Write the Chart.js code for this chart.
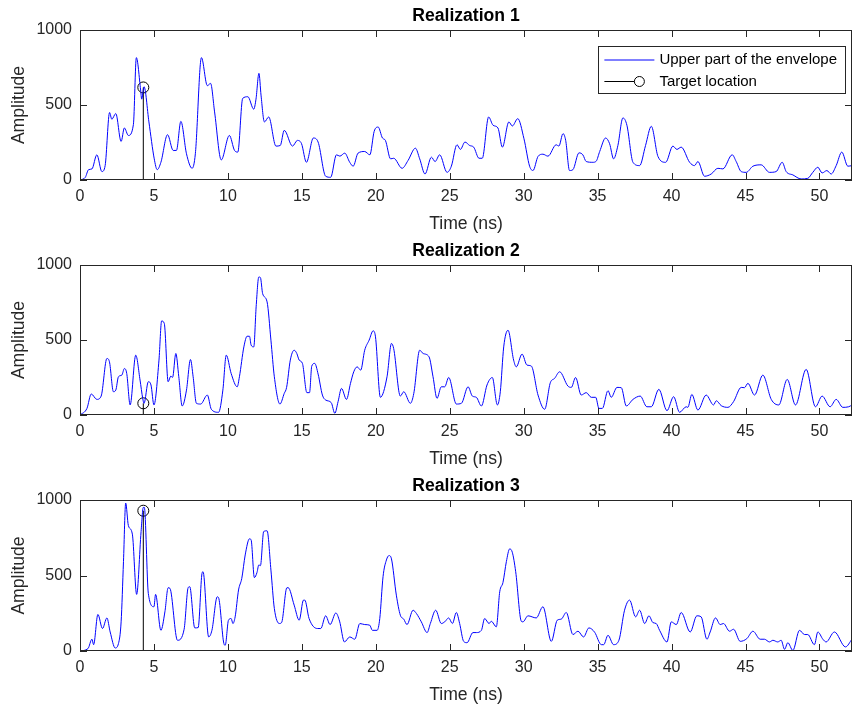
<!DOCTYPE html>
<html>
<head>
<meta charset="utf-8">
<script src="https://cdn.jsdelivr.net/npm/chart.js@4.4.0/dist/chart.umd.min.js"></script>
<style>
  body { margin: 0; background: #fff; }
  canvas { position: absolute; left: 0; }
</style>
</head>
<body>
<canvas id="c1" width="853" height="235" style="top:0px"></canvas>
<canvas id="c2" width="853" height="235" style="top:235px"></canvas>
<canvas id="c3" width="853" height="236" style="top:470px"></canvas>
<script>
// realization 1
const time1 = [0,0.36,0.58,0.81,1.14,1.48,1.70,2.0,2.15,2.42,2.78,3.0,3.27,3.61,3.81,4.10,4.17,4.33,4.66,5.02,5.22,5.47,5.92,6.30,6.52,6.82,7.2,7.58,7.80,8.21,8.61,8.83,9.1,9.55,10.1,10.45,10.67,11.0,11.35,11.75,11.9,12.1,12.24,12.47,12.76,13.25,13.54,13.81,14.37,14.7,14.98,15.31,15.78,16.1,16.61,16.95,17.34,17.57,17.9,18.24,18.47,18.8,19.25,19.6,19.89,20.16,20.45,20.65,21.0,21.21,21.78,22.18,22.68,22.97,23.33,23.76,24.01,24.32,24.82,25.11,25.49,25.72,26.03,26.35,26.62,26.98,27.2,27.63,27.93,28.26,28.56,29.0,29.23,29.6,30.02,30.4,30.63,30.97,31.3,31.64,32.2,32.38,32.66,32.84,33.1,33.33,33.74,34.0,34.23,34.68,34.9,35.14,35.54,35.81,36.08,36.37,36.71,36.98,37.39,37.84,38.24,38.63,39.08,39.6,40.09,40.36,40.65,41.22,41.55,41.78,42.23,42.68,43.13,43.47,44.1,44.37,44.71,45.05,45.5,46.06,46.62,47.07,47.48,47.75,48.2,48.76,49.21,49.55,49.89,50.18,50.5,50.79,51.13,51.51,51.92,52.2];
const amp1 = [0,18,69,74,168,56,96,450,405,443,257,347,297,369,816,600,539,622,387,141,69,118,302,197,197,391,175,78,175,816,629,644,454,134,297,197,186,544,555,472,539,711,566,387,420,226,230,331,226,264,242,118,280,253,25,18,168,159,179,118,92,179,190,168,324,353,280,264,141,145,78,130,212,141,40,152,123,168,51,92,235,204,253,230,219,145,145,420,365,347,219,387,360,409,275,92,63,157,172,159,235,226,309,264,63,69,181,168,123,118,125,190,280,242,141,230,414,365,118,96,230,358,157,118,226,204,219,118,96,123,25,40,78,74,168,123,56,51,92,101,51,56,118,56,34,7,11,51,85,47,63,40,96,186,92,96];

// realization 2
const time2 = [0,0.47,0.76,1.14,1.43,1.82,1.99,2.26,2.42,2.6,2.83,3.0,3.16,3.39,3.77,4.06,4.24,4.33,4.62,4.8,5.0,5.34,5.52,5.7,5.96,6.14,6.26,6.48,6.68,6.91,7.2,7.47,7.65,7.87,8.16,8.61,8.88,9.37,9.66,9.89,10.22,10.63,10.78,11.08,11.3,11.46,11.57,11.75,11.91,12.09,12.2,12.35,12.65,12.91,13.14,13.52,13.81,13.97,14.22,14.48,14.66,14.82,15.04,15.34,15.52,15.67,15.87,16.1,16.39,16.61,16.99,17.23,17.45,17.68,18.02,18.29,18.51,18.74,18.98,19.25,19.55,19.82,19.98,20.31,20.76,21.06,21.21,21.66,21.89,22.34,22.57,22.97,23.2,23.6,23.87,24.14,24.43,24.66,24.93,25.45,25.79,26.24,26.53,26.8,27.14,27.52,27.88,28.22,28.42,28.65,28.94,29.32,29.5,29.89,30.22,30.52,30.97,31.42,31.8,32.09,32.43,32.99,33.22,33.51,33.89,34.23,34.57,34.87,35.09,35.32,35.7,35.92,36.31,36.6,36.94,37.39,37.88,38.33,38.63,39.14,39.69,40.14,40.54,40.99,41.1,41.37,41.78,42.34,42.84,43.02,43.36,43.81,44.19,44.71,44.93,45.16,45.61,46.17,46.74,47.25,47.82,48.38,49.1,49.73,50.18,50.72,51.13,51.58,51.98,52.2];
const amp2 = [0,44,140,104,126,377,355,155,166,255,266,310,277,67,399,233,111,78,222,200,67,366,627,610,222,259,251,410,255,60,166,370,255,78,73,133,38,18,166,399,277,188,255,454,525,525,466,454,721,920,916,809,754,499,255,73,144,184,366,432,410,366,344,149,149,326,344,273,133,100,82,11,89,177,104,211,288,321,299,432,499,561,521,118,255,477,443,126,155,78,144,432,410,388,255,111,188,188,250,73,78,188,126,118,60,200,250,67,155,454,565,366,321,406,333,326,133,38,215,244,288,193,184,250,133,149,118,118,44,44,162,118,184,182,60,104,126,55,55,171,29,122,18,55,51,137,33,133,67,95,62,51,89,184,182,211,133,266,104,67,237,67,304,55,126,55,104,51,55,67];

// realization 3
const time3 = [0,0.54,0.81,0.92,1.21,1.52,1.82,2.04,2.38,2.6,2.78,2.94,3.09,3.27,3.54,3.83,4.13,4.28,4.35,4.62,5.0,5.11,5.47,5.74,5.96,6.08,6.59,7.04,7.31,7.42,7.76,7.99,8.25,8.32,8.7,8.92,9.28,9.37,9.73,9.82,10.04,10.22,10.34,10.49,10.72,10.94,11.17,11.46,11.57,11.79,11.97,12.09,12.2,12.42,12.65,12.91,13.14,13.48,13.63,13.99,14.08,14.48,14.82,15.11,15.2,15.49,16.05,16.28,16.61,16.91,17.3,17.55,17.88,18.24,18.58,18.92,19.25,19.59,19.77,20.09,20.27,20.49,20.72,20.9,21.06,21.39,21.66,21.89,22.11,22.52,22.75,23.08,23.47,23.69,24.05,24.43,24.66,24.93,25.18,25.45,25.67,25.94,26.17,26.57,26.8,27.14,27.36,27.66,27.81,28.15,28.38,28.6,28.83,29.05,29.23,29.46,29.84,29.95,30.29,30.85,31.3,31.87,32.27,32.54,32.88,33.33,33.67,34.05,34.41,34.8,35.25,35.41,35.7,36.08,36.44,36.82,37.16,37.57,37.84,38.18,38.47,38.74,38.96,39.19,39.69,39.98,40.32,40.65,41.26,41.71,42.0,42.39,42.61,42.97,43.29,43.51,43.92,44.19,44.64,45.09,45.5,45.99,46.28,46.62,46.85,47.18,47.41,47.64,47.86,48.2,48.65,48.99,49.21,49.66,49.89,50.23,50.45,51.01,51.76,52.2];
const amp3 = [0,16,78,42,242,149,219,126,20,49,193,592,980,831,774,375,791,951,951,381,293,375,137,259,419,415,71,144,419,426,153,155,514,525,93,137,359,353,49,38,204,215,182,226,404,481,636,743,736,486,521,570,565,791,796,536,282,182,188,419,419,304,204,337,337,215,149,149,233,175,252,198,60,93,78,182,175,171,137,137,215,492,603,632,610,370,237,211,175,270,248,193,122,182,270,182,193,219,182,255,182,64,55,122,122,137,215,182,197,160,392,454,592,676,654,525,197,193,233,219,293,64,204,211,255,109,131,93,153,124,42,42,104,42,71,270,337,226,270,182,233,188,182,137,60,193,175,255,126,233,226,78,126,219,175,182,131,144,64,82,131,78,78,60,71,60,71,11,55,4,137,109,109,42,126,78,60,126,27,78];

const targetTime = 4.28;
const targetAmp = [617, 78, 929];
const titles = ["Realization 1", "Realization 2", "Realization 3"];
const legendLabels = ["Upper part of the envelope", "Target location"];
const xMax = 52.2;
const xStep = 5;
const yMax = 1000;
const yStep = 500;

const FONT = "'Liberation Sans', Arial, sans-serif";
Chart.defaults.font.family = FONT;
Chart.defaults.color = "#262626";

// matlab style box with inward ticks
const matlabBox = {
  id: "matlabBox",
  afterDatasetsDraw(chart) {
    const { ctx, chartArea: a, scales } = chart;
    ctx.save();
    ctx.strokeStyle = "#262626";
    ctx.lineWidth = 1;
    ctx.beginPath();
    scales.x.ticks.forEach((t) => {
      const px = Math.round(scales.x.getPixelForValue(t.value)) + 0.5;
      ctx.moveTo(px, a.bottom); ctx.lineTo(px, a.bottom - 7);
      ctx.moveTo(px, a.top); ctx.lineTo(px, a.top + 7);
    });
    scales.y.ticks.forEach((t) => {
      const py = Math.round(scales.y.getPixelForValue(t.value)) + 0.5;
      ctx.moveTo(a.left, py); ctx.lineTo(a.left + 7, py);
      ctx.moveTo(a.right, py); ctx.lineTo(a.right - 7, py);
    });
    ctx.stroke();
    ctx.strokeRect(a.left + 0.5, a.top + 0.5, a.right - a.left - 1, a.bottom - a.top - 1);
    ctx.restore();
  }
};

// legend box drawn inside the first axes
const legendBox = {
  id: "legendBox",
  afterDraw(chart) {
    const { ctx, chartArea: a } = chart;
    const ds = chart.data.datasets;
    ctx.save();
    ctx.font = "15px " + FONT;
    const textW = Math.max(...ds.map((d) => ctx.measureText(d.label).width));
    const w = 61 + textW + 8;
    const h = 47;
    const x = a.right - 7 - w;
    const y = a.top + 16;
    ctx.fillStyle = "#fff";
    ctx.fillRect(x, y, w, h);
    ctx.strokeStyle = "#262626";
    ctx.lineWidth = 1;
    ctx.strokeRect(Math.round(x) + 0.5, Math.round(y) + 0.5, Math.round(w), h);
    ctx.textBaseline = "middle";
    ctx.textAlign = "left";
    const rows = [y + 14, y + 35.5];
    // blue line sample
    ctx.strokeStyle = ds[0].borderColor;
    ctx.beginPath();
    ctx.moveTo(x + 6, rows[0]); ctx.lineTo(x + 56, rows[0]);
    ctx.stroke();
    // stem sample
    ctx.strokeStyle = ds[1].borderColor;
    ctx.beginPath();
    ctx.moveTo(x + 6, rows[1]); ctx.lineTo(x + 36, rows[1]);
    ctx.stroke();
    ctx.beginPath();
    ctx.arc(x + 41, rows[1], 5, 0, Math.PI * 2);
    ctx.stroke();
    ctx.fillStyle = "#000";
    ds.forEach((d, i) => ctx.fillText(d.label, x + 61, rows[i]));
    ctx.restore();
  }
};

function noPad(s) {
  s.paddingLeft = 0;
  s.paddingRight = 0;
}

function makeChart(id, time, amp, k) {
  const plugins = [matlabBox];
  if (k === 0) plugins.push(legendBox);
  return new Chart(document.getElementById(id), {
    type: "line",
    data: {
      datasets: [
        {
          label: legendLabels[0],
          data: time.map((t, i) => ({ x: t, y: amp[i] })),
          borderColor: "#0000ff",
          borderWidth: 1,
          pointRadius: 0,
          cubicInterpolationMode: "monotone",
          fill: false
        },
        {
          label: legendLabels[1],
          data: [{ x: targetTime, y: 0 }, { x: targetTime, y: targetAmp[k] }],
          borderColor: "#000000",
          borderWidth: 1,
          pointRadius: [0, 5.5],
          pointBorderColor: "#000000",
          pointBackgroundColor: "rgba(0,0,0,0)",
          pointBorderWidth: 1,
          fill: false
        }
      ]
    },
    options: {
      responsive: false,
      animation: false,
      layout: { autoPadding: false, padding: { left: 0, right: 1, top: 0, bottom: 0 } },
      plugins: { legend: { display: false }, tooltip: { enabled: false } },
      scales: {
        x: {
          type: "linear",
          position: "bottom",
          min: 0,
          max: xMax,
          grid: { display: false, drawTicks: false },
          border: { display: false },
          ticks: { stepSize: xStep, includeBounds: false, padding: 7, maxRotation: 0, autoSkip: false, font: { size: 16 } },
          title: { display: true, text: "Time (ns)", font: { size: 17.6 }, padding: { top: 0, bottom: 0 } },
          afterFit(s) { s.height = 55; noPad(s); }
        },
        xTop: {
          type: "linear",
          position: "top",
          min: 0,
          max: xMax,
          grid: { display: false, drawTicks: false },
          border: { display: false },
          ticks: { display: false },
          title: { display: true, text: titles[k], color: "#000", font: { size: 17.6, weight: "bold" }, padding: { top: 6, bottom: 0 } },
          afterFit(s) { s.height = 30; noPad(s); }
        },
        y: {
          min: 0,
          max: yMax,
          grid: { display: false, drawTicks: false },
          border: { display: false },
          ticks: { stepSize: yStep, padding: 8, font: { size: 16 }, callback: (v) => String(v) },
          title: { display: true, text: "Amplitude", font: { size: 17.6 }, padding: { top: 9, bottom: 0 } },
          afterFit(s) { s.width = 80; }
        }
      }
    },
    plugins: plugins
  });
}

makeChart("c1", time1, amp1, 0);
makeChart("c2", time2, amp2, 1);
makeChart("c3", time3, amp3, 2);
</script>
</body>
</html>
